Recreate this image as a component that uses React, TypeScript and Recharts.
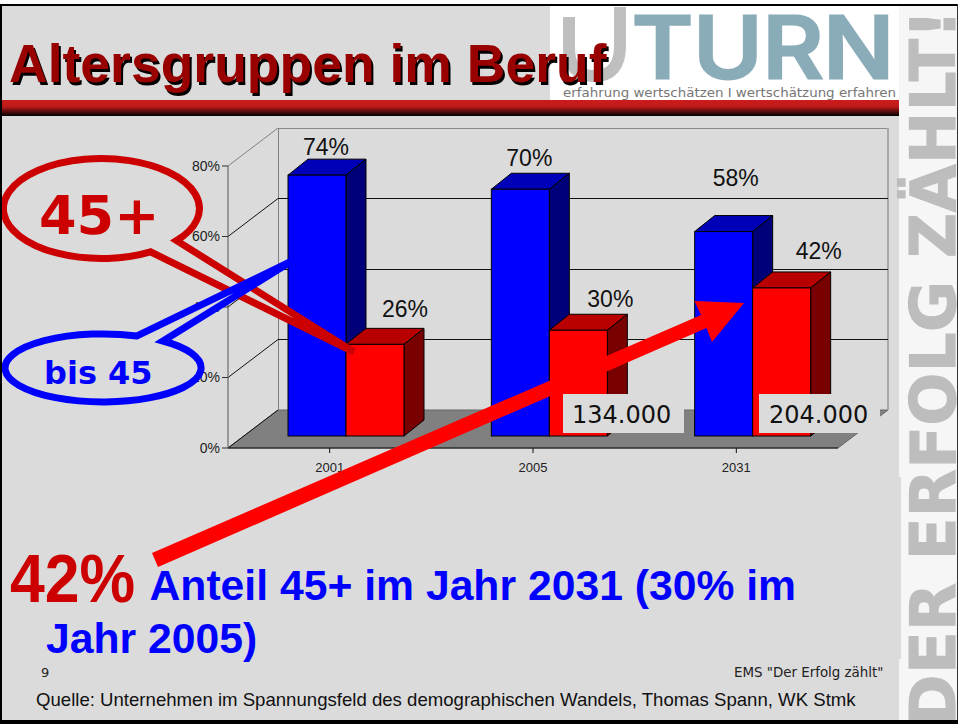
import { Bar, BarChart, LabelList, XAxis, YAxis, usePlotArea } from "recharts";

const years = ["2001", "2005", "2031"];
const bis45 = [74, 70, 58];
const ab45 = [26, 30, 42];
const yTicks = [0, 20, 40, 60, 80];

const chartData = years.map((year, i) => ({ year, bis45: bis45[i], ab45: ab45[i] }));

const sans = '"Liberation Sans", Arial, sans-serif';
const verdana = '"DejaVu Sans", Verdana, sans-serif';
const slideGrey = "#dbdbdb";

// how the old 3D chart projects things: wall depth and bar depth
const wallDx = 50;
const wallDy = 38;
const barShiftX = 16;
const barShiftY = 12;
const barDepthX = 20;
const barDepthY = 16;

function Wall() {
  const plot = usePlotArea();
  if (!plot) return null;
  const left = plot.x;
  const right = plot.x + plot.width;
  const bottom = plot.y + plot.height;
  const yOf = (v: number) => bottom - (v / 80) * plot.height;
  return (
    <g>
      <polygon
        points={`${left},${bottom} ${left + wallDx},${bottom - wallDy} ${right + wallDx},${bottom - wallDy} ${right},${bottom}`}
        fill="#808080"
        stroke="#666"
      />
      <g shapeRendering="crispEdges">
        <line x1={left + wallDx} x2={right + wallDx} y1={yOf(80) - wallDy} y2={yOf(80) - wallDy} stroke="#8a8a8a" />
        <line x1={left + wallDx} x2={left + wallDx} y1={yOf(80) - wallDy} y2={bottom - wallDy} stroke="#808080" />
        <line x1={right + wallDx} x2={right + wallDx} y1={yOf(80) - wallDy} y2={bottom - wallDy} stroke="#a8a8a8" strokeWidth={2} />
      </g>
      {yTicks.map((t) => (
        <g key={t}>
          <line
            x1={left}
            y1={yOf(t)}
            x2={left + wallDx}
            y2={yOf(t) - wallDy}
            stroke={t === 80 ? "#808080" : "#111"}
          />
          {t > 0 && t < 80 && (
            <line
              x1={left + wallDx}
              x2={right + wallDx}
              y1={yOf(t) - wallDy}
              y2={yOf(t) - wallDy}
              stroke="#111"
              shapeRendering="crispEdges"
            />
          )}
        </g>
      ))}
    </g>
  );
}

function box3d(front: string, top: string, side: string) {
  return function Box(props: any) {
    const x = props.x + barShiftX;
    const y = props.y - barShiftY;
    const w = props.width;
    const h = props.height;
    return (
      <g stroke="#000" strokeWidth={1}>
        <polygon points={`${x},${y} ${x + barDepthX},${y - barDepthY} ${x + w + barDepthX},${y - barDepthY} ${x + w},${y}`} fill={top} />
        <polygon points={`${x + w},${y} ${x + w + barDepthX},${y - barDepthY} ${x + w + barDepthX},${y + h - barDepthY} ${x + w},${y + h}`} fill={side} />
        <rect x={x} y={y} width={w} height={h} fill={front} />
      </g>
    );
  };
}

// the labels were hand placed on the slide, so each one has its own nudge
const blueNudge = [
  { dx: 9, dy: 28 },
  { dx: 9, dy: 31 },
  { dx: 12, dy: 54 },
];
const redNudge = [
  { dx: 30, dy: 35 },
  { dx: 32, dy: 31 },
  { dx: 37, dy: 37 },
];

function percentLabel(nudges: { dx: number; dy: number }[]) {
  return function PercentLabel(props: any) {
    const n = nudges[props.index];
    return (
      <text
        x={props.x + barShiftX + props.width / 2 + n.dx}
        y={props.y - barShiftY - n.dy}
        textAnchor="middle"
        dominantBaseline="central"
        fontFamily={sans}
        fontSize={23}
        fill="#111"
      >
        {props.value}%
      </text>
    );
  };
}

function abs(left: number, top: number, extra: React.CSSProperties = {}): React.CSSProperties {
  return { position: "absolute", left, top, whiteSpace: "nowrap", lineHeight: 1, ...extra };
}

export default function App() {
  return (
    <div style={{ position: "absolute", left: 0, top: 0, width: 958, height: 724, overflow: "hidden", background: "#fff" }}>
      <div style={{ position: "absolute", left: 0, top: 4, width: 958, height: 720, background: slideGrey }} />
      <div style={{ position: "absolute", left: 899, top: 6, width: 59, height: 714, background: "#f6f6f6" }} />
      <div style={{ position: "absolute", left: 899, top: 477, width: 2, height: 182, background: slideGrey }} />

      <svg width={958} height={724} style={{ position: "absolute", left: 0, top: 0 }}>
        <text
          transform="translate(955 720) rotate(-90)"
          x={-6}
          y={0}
          fontFamily={verdana}
          fontWeight="bold"
          fontSize={62}
          letterSpacing={0.7}
          fill="#bdbdbd"
          stroke="#bdbdbd"
          strokeWidth={1.2}
        >
          DER ERFOLG ZÄHLT!
        </text>
        {/* logo */}
        <rect x={550} y={6} width={349} height={94} fill="#fff" />
        <path d="M569,17 L569,48 Q569,76 594,76 Q620,76 620,46 L620,7" fill="none" stroke="#bfbfbf" strokeWidth={12} />
        <text
          x={632}
          y={78}
          fontFamily="Inter, sans-serif"
          fontWeight={500}
          fontSize={85}
          fill="#8aacb9"
          stroke="#8aacb9"
          strokeWidth={3}
          textLength={262}
          lengthAdjust="spacingAndGlyphs"
        >
          TURN
        </text>
        <text x={563} y={97} fontFamily={verdana} fontSize={12} fill="#767676" textLength={333} lengthAdjust="spacingAndGlyphs">
          erfahrung wertschätzen I wertschätzung erfahren
        </text>
        <defs>
          <linearGradient id="band" x1="0" x2="0" y1="0" y2="1">
            <stop offset="0" stopColor="#cc1c1c" />
            <stop offset="0.4" stopColor="#c01a1a" />
            <stop offset="1" stopColor="#000" />
          </linearGradient>
        </defs>
        <rect x={0} y={100} width={899} height={16} fill="url(#band)" />
      </svg>

      <div style={{ position: "absolute", left: 0, top: 0 }}>
        <BarChart
          width={958}
          height={724}
          data={chartData}
          margin={{ top: 166, right: 120, bottom: 246, left: 168 }}
          barCategoryGap={44}
          barGap={0}
        >
          <Wall />
          <XAxis
            dataKey="year"
            height={30}
            tickSize={5}
            tickMargin={10}
            tick={{ fontSize: 13, fontFamily: sans, fill: "#222" }}
            axisLine={{ stroke: "#111" }}
            tickLine={{ stroke: "#111" }}
          />
          <YAxis
            width={60}
            domain={[0, 80]}
            ticks={yTicks}
            tickFormatter={(v: number) => `${v}%`}
            tickSize={6}
            tick={{ fontSize: 14, fontFamily: sans, fill: "#222" }}
            axisLine={{ stroke: "#555" }}
            tickLine={{ stroke: "#333" }}
          />
          <Bar dataKey="bis45" isAnimationActive={false} shape={box3d("#0000ff", "#0000b8", "#000078")}>
            <LabelList dataKey="bis45" content={percentLabel(blueNudge)} />
          </Bar>
          <Bar dataKey="ab45" isAnimationActive={false} shape={box3d("#ff0000", "#b80000", "#780000")}>
            <LabelList dataKey="ab45" content={percentLabel(redNudge)} />
          </Bar>
        </BarChart>
      </div>

      <svg width={958} height={724} style={{ position: "absolute", left: 0, top: 0 }}>
        <path d="M150.5,251.8 A98,50 0 1 1 176.6,240.6 L354,352 Z" fill={slideGrey} stroke="#cc0000" strokeWidth={7} />
        <path d="M163,341 A98,34 0 1 1 137,336 L292,261 Z" fill={slideGrey} stroke="#0000ff" strokeWidth={7} />
        <polygon
          points="152,553 701,315 694.5,301 744,303 712,342 706.5,328 158,567"
          fill="#ff0000"
        />
        <rect x={563} y={394} width={121} height={39} fill={slideGrey} />
        <rect x={759} y={394} width={121} height={39} fill={slideGrey} />
        <text x={39} y={234} fontFamily={verdana} fontWeight="bold" fontSize={54} fill="#cc0000">45+</text>
        <text x={44} y={384} fontFamily={verdana} fontWeight="bold" fontSize={32} fill="#0000ff">bis 45</text>
        <text x={572} y={423} fontFamily={verdana} fontSize={24} fill="#111">134.000</text>
        <text x={769} y={423} fontFamily={verdana} fontSize={24} fill="#111">204.000</text>
      </svg>

      <div style={abs(9, 37, { fontFamily: sans, fontWeight: "bold", fontSize: 53.5, color: "#990000", textShadow: "2px 3px 0 #000" })}>
        Altersgruppen im Beruf
      </div>
      <div style={abs(10, 544, { fontFamily: sans, fontWeight: "bold", fontSize: 68, color: "#cc0000", transform: "scaleX(0.92)", transformOrigin: "left top" })}>
        42%
      </div>
      <div style={abs(149.5, 564, { fontFamily: sans, fontWeight: "bold", fontSize: 42.7, color: "#0000ff" })}>
        Anteil 45+ im Jahr 2031 (30% im
      </div>
      <div style={abs(46, 617, { fontFamily: sans, fontWeight: "bold", fontSize: 42.7, color: "#0000ff" })}>Jahr 2005)</div>
      <div style={abs(41, 666, { fontFamily: verdana, fontSize: 13, color: "#222" })}>9</div>
      <div style={abs(734, 666, { fontFamily: verdana, fontSize: 13.4, color: "#222" })}>EMS "Der Erfolg zählt"</div>
      <div style={abs(36, 691, { fontFamily: sans, fontSize: 18.6, color: "#111" })}>
        Quelle: Unternehmen im Spannungsfeld des demographischen Wandels, Thomas Spann, WK Stmk
      </div>

      {/* slide frame */}
      <div style={{ position: "absolute", left: 0, top: 4, width: 958, height: 2, background: "#000" }} />
      <div style={{ position: "absolute", left: 0, top: 4, width: 2, height: 720, background: "#000" }} />
      <div style={{ position: "absolute", left: 957, top: 4, width: 1, height: 720, background: "#333" }} />
      <div style={{ position: "absolute", left: 0, top: 720, width: 958, height: 4, background: "#000" }} />
    </div>
  );
}
